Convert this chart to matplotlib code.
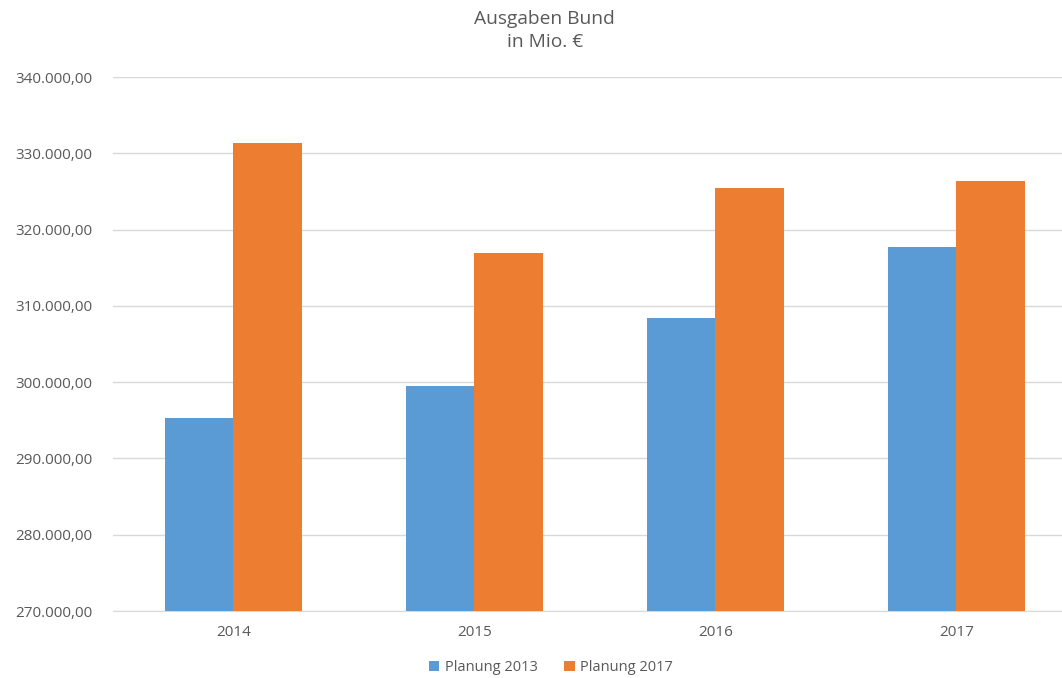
import numpy as np
import matplotlib.pyplot as plt
from matplotlib.ticker import FuncFormatter

years = ['2014', '2015', '2016', '2017']
planung_2013 = [295300, 299500, 308400, 317700]
planung_2017 = [331350, 316900, 325450, 326400]

plt.rcParams['font.family'] = ['Open Sans', 'DejaVu Sans']
grey = '#595959'

fig = plt.figure(figsize=(10.62, 6.78), dpi=100)
ax = fig.add_axes([0.1064, 0.0988, 0.9077, 0.7876])

x = np.arange(len(years))
w = 0.286
ax.bar(x - w / 2, planung_2013, w, color='#5b9bd5', label='Planung 2013', zorder=3)
ax.bar(x + w / 2, planung_2017, w, color='#ed7d31', label='Planung 2017', zorder=3)

ax.set_xlim(-0.5, len(years) - 0.5)
ax.set_ylim(270000, 340000)
ax.set_yticks(np.arange(270000, 340001, 10000))

def de_fmt(v, pos):
    s = f'{v:,.2f}'
    return s.replace(',', 'X').replace('.', ',').replace('X', '.')

ax.yaxis.set_major_formatter(FuncFormatter(de_fmt))
ax.set_xticks(x)
ax.set_xticklabels(years)
ax.tick_params(length=0, labelsize=11, colors=grey, pad=10)
ax.tick_params(axis='y', pad=15)
ax.grid(axis='y', color='#d9d9d9', linewidth=1, zorder=0)
for side in ['top', 'right', 'left']:
    ax.spines[side].set_visible(False)
ax.spines['bottom'].set_color('#d9d9d9')

fig.text(0.513, 0.955, 'Ausgaben Bund\nin Mio. €', ha='center', va='center',
         fontsize=13.8, color=grey, linespacing=1.3)
fig.legend(loc='center', bbox_to_anchor=(0.519, 0.015), ncol=2, frameon=False,
           fontsize=10.5, labelcolor=grey, handlelength=0.7, handleheight=0.7,
           columnspacing=1.8, handletextpad=0.4)

fig.savefig('out.png', dpi=100)
